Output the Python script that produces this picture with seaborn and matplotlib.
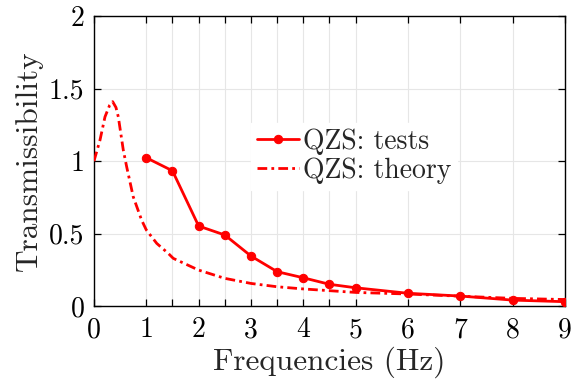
import matplotlib
matplotlib.use("Agg")
import matplotlib.pyplot as plt
import seaborn as sns
import pandas as pd

# Data
test_freq = [1, 1.5, 2, 2.5, 3, 3.5, 4, 4.5, 5, 6, 7, 8, 9]
test_trans = [1.023, 0.933, 0.552, 0.49, 0.345, 0.237, 0.195, 0.15, 0.126, 0.088, 0.069, 0.041, 0.03]

theory_freq = [0, 0.115, 0.21, 0.30, 0.357, 0.42, 0.465, 0.56, 0.625, 0.75, 0.91, 1.0, 1.2,
               1.42, 1.515, 2.0, 2.5, 3.0, 3.5, 4.0, 4.5, 5.0, 6.0, 7.0, 8.0, 9.0]
theory_trans = [1.0, 1.145, 1.305, 1.386, 1.41, 1.37, 1.305, 1.076, 0.96, 0.754, 0.593, 0.525, 0.432,
                0.363, 0.329, 0.248, 0.191, 0.156, 0.133, 0.118, 0.106, 0.094, 0.083, 0.068, 0.053, 0.045]

x_ticks = [0, 1, 1.5, 2, 2.5, 3, 3.5, 4, 4.5, 5, 6, 7, 8, 9]
x_tick_labels = ["0", "1", "", "2", "", "3", "", "4", "", "5", "6", "7", "8", "9"]
y_ticks = [0, 0.5, 1, 1.5, 2]
y_tick_labels = ["0", "0.5", "1", "1.5", "2"]

sns.set_style("ticks")
plt.rcParams["font.family"] = ["cmr10", "DejaVu Serif"]
plt.rcParams["mathtext.fontset"] = "cm"
plt.rcParams["axes.formatter.use_mathtext"] = True

fig = plt.figure(figsize=(5.78, 3.84), dpi=100)
ax = fig.add_axes([0.1626, 0.203, 0.8149, 0.755])

df_test = pd.DataFrame({"f": test_freq, "t": test_trans})
df_theory = pd.DataFrame({"f": theory_freq, "t": theory_trans})

sns.lineplot(data=df_test, x="f", y="t", ax=ax, color="#ff0000", lw=2.0,
             marker="o", markersize=6, markeredgecolor="#ff0000",
             label="QZS: tests", zorder=3)
sns.lineplot(data=df_theory, x="f", y="t", ax=ax, color="#ff0000", lw=2.0,
             linestyle=(0, (3.5, 1.5, 1, 1.5)), label="QZS: theory", zorder=3)

ax.set_xlim(0, 9)
ax.set_ylim(0, 2)
ax.set_xticks(x_ticks)
ax.set_xticklabels(x_tick_labels)
ax.set_yticks(y_ticks)
ax.set_yticklabels(y_tick_labels)
ax.grid(True, color="#e6e6e6", lw=0.8)
ax.tick_params(direction="in", top=True, right=True, length=5, width=0.9,
               labelsize=20, colors="black")
ax.tick_params(axis="x", pad=8)
ax.tick_params(axis="y", pad=7)
for s in ax.spines.values():
    s.set_linewidth(1.0)
    s.set_color("black")

ax.set_xlabel("Frequencies (Hz)", fontsize=22.5, labelpad=2)
ax.set_ylabel("Transmissibility", fontsize=22.5, labelpad=4)

leg = ax.legend(loc="center", bbox_to_anchor=(0.552, 0.517), fontsize=20,
                frameon=True, framealpha=1, facecolor="white", edgecolor="white",
                handlelength=1.5, handletextpad=0.15, borderpad=0.2, labelspacing=0.1,
                fancybox=False)

fig.savefig("out.png", dpi=100)
